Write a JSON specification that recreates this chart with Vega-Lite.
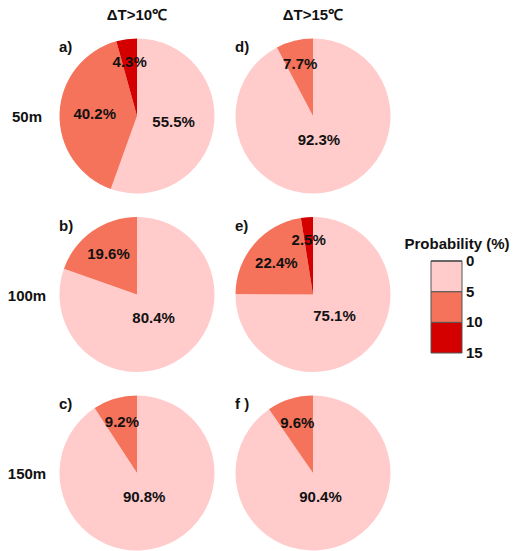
{
  "$schema": "https://vega.github.io/schema/vega-lite/v6.json",
  "width": 515,
  "height": 551,
  "autosize": {"type": "none"},
  "padding": 0,
  "background": "white",
  "config": {"view": {"stroke": null}, "font": "Liberation Sans"},
  "datasets": {
    "slices": [
      {"panel": "a", "col": 0, "row": 0, "lower": 0, "pct": 55.5},
      {"panel": "a", "col": 0, "row": 0, "lower": 5, "pct": 40.2},
      {"panel": "a", "col": 0, "row": 0, "lower": 10, "pct": 4.3},
      {"panel": "b", "col": 0, "row": 1, "lower": 0, "pct": 80.4},
      {"panel": "b", "col": 0, "row": 1, "lower": 5, "pct": 19.6},
      {"panel": "c", "col": 0, "row": 2, "lower": 0, "pct": 90.8},
      {"panel": "c", "col": 0, "row": 2, "lower": 5, "pct": 9.2},
      {"panel": "d", "col": 1, "row": 0, "lower": 0, "pct": 92.3},
      {"panel": "d", "col": 1, "row": 0, "lower": 5, "pct": 7.7},
      {"panel": "e", "col": 1, "row": 1, "lower": 0, "pct": 75.1},
      {"panel": "e", "col": 1, "row": 1, "lower": 5, "pct": 22.4},
      {"panel": "e", "col": 1, "row": 1, "lower": 10, "pct": 2.5},
      {"panel": "f", "col": 1, "row": 2, "lower": 0, "pct": 90.4},
      {"panel": "f", "col": 1, "row": 2, "lower": 5, "pct": 9.6}
    ],
    "panels": [
      {"col": 0, "row": 0, "label": "a)"},
      {"col": 0, "row": 1, "label": "b)"},
      {"col": 0, "row": 2, "label": "c)"},
      {"col": 1, "row": 0, "label": "d)"},
      {"col": 1, "row": 1, "label": "e)"},
      {"col": 1, "row": 2, "label": "f )"}
    ],
    "headers": [
      {"col": 0, "row": 0, "label": "ΔT>10℃"},
      {"col": 1, "row": 0, "label": "ΔT>15℃"}
    ],
    "depths": [
      {"col": 0, "row": 0, "label": "50m"},
      {"col": 0, "row": 1, "label": "100m"},
      {"col": 0, "row": 2, "label": "150m"}
    ]
  },
  "layer": [
    {
      "data": {"name": "slices"},
      "transform": [
        {"stack": "pct", "groupby": ["panel"], "sort": [{"field": "lower", "order": "ascending"}], "as": ["start", "end"]},
        {"calculate": "(datum.start + datum.end) / 2", "as": "mid"},
        {"calculate": "10 - datum.lower", "as": "flip"},
        {"calculate": "format(datum.pct, '.1f') + '%'", "as": "label"}
      ],
      "layer": [
        {
          "mark": {"type": "arc", "outerRadius": 77.5},
          "encoding": {
            "x": {"field": "col", "type": "quantitative", "scale": {"domain": [0, 1], "range": [137, 313], "nice": false, "zero": false}, "axis": null},
            "y": {"field": "row", "type": "quantitative", "scale": {"domain": [0, 2], "range": [116, 473], "nice": false, "zero": false}, "axis": null},
            "theta": {"field": "start", "type": "quantitative", "scale": {"type": "linear", "domain": [0, 100], "range": [0, 6.283185307179586]}},
            "theta2": {"field": "end"},
            "color": {
              "field": "flip",
              "type": "quantitative",
              "bin": {"extent": [0, 15], "step": 5},
              "scale": {"range": ["#D40000", "#F5735A", "#FFCBCB"]},
              "legend": {
                "type": "gradient",
                "title": "Probability (%)",
                "orient": "none",
                "legendX": 404,
                "legendY": 237,
                "direction": "vertical",
                "gradientLength": 92,
                "gradientThickness": 31,
                "gradientStrokeColor": "#555555",
                "gradientStrokeWidth": 1,
                "titleFont": "Liberation Sans",
                "titleFontSize": 15,
                "titleFontWeight": "bold",
                "titleColor": "#111111",
                "titlePadding": 9,
                "titleAnchor": "middle",
                "titleLimit": 200,
                "labelFont": "Liberation Sans",
                "labelFontSize": 15,
                "labelFontWeight": "bold",
                "labelColor": "#111111",
                "labelOffset": 4,
                "labelOverlap": false,
                "labelBaseline": "middle",
                "values": [0, 5, 10, 15],
                "labelExpr": "'' + (15 - datum.value)",
                "encode": {"labels": {"update": {"baseline": {"value": "middle"}}}}
              }
            }
          }
        },
        {
          "mark": {"type": "text", "font": "Liberation Sans", "fontSize": 15, "fontWeight": "bold", "color": "#111111", "align": "center", "baseline": "middle"},
          "encoding": {
            "x": {"field": "col", "type": "quantitative", "scale": {"domain": [0, 1], "range": [137, 313], "nice": false, "zero": false}, "axis": null},
            "y": {"field": "row", "type": "quantitative", "scale": {"domain": [0, 2], "range": [116, 473], "nice": false, "zero": false}, "axis": null},
            "theta": {"field": "mid", "type": "quantitative", "stack": null, "scale": {"type": "linear", "domain": [0, 100], "range": [0, 6.283185307179586]}},
            "radius": {"field": "pct", "type": "quantitative", "scale": {"type": "linear", "domain": [0, 100], "range": [56, 22], "zero": false}},
            "text": {"field": "label"}
          }
        }
      ]
    },
    {
      "data": {"name": "panels"},
      "mark": {"type": "text", "font": "Liberation Sans", "fontSize": 15, "fontWeight": "bold", "color": "#111111", "align": "left", "baseline": "middle", "dx": -78, "dy": -69},
      "encoding": {
        "x": {"field": "col", "type": "quantitative", "scale": {"domain": [0, 1], "range": [137, 313], "nice": false, "zero": false}, "axis": null},
        "y": {"field": "row", "type": "quantitative", "scale": {"domain": [0, 2], "range": [116, 473], "nice": false, "zero": false}, "axis": null},
        "text": {"field": "label"}
      }
    },
    {
      "data": {"name": "headers"},
      "mark": {"type": "text", "font": "Liberation Sans", "fontSize": 15, "fontWeight": "bold", "color": "#111111", "align": "center", "baseline": "middle", "dy": -101},
      "encoding": {
        "x": {"field": "col", "type": "quantitative", "scale": {"domain": [0, 1], "range": [137, 313], "nice": false, "zero": false}, "axis": null},
        "y": {"field": "row", "type": "quantitative", "scale": {"domain": [0, 2], "range": [116, 473], "nice": false, "zero": false}, "axis": null},
        "text": {"field": "label"}
      }
    },
    {
      "data": {"name": "depths"},
      "mark": {"type": "text", "font": "Liberation Sans", "fontSize": 15, "fontWeight": "bold", "color": "#111111", "align": "center", "baseline": "middle", "dx": -110, "dy": 1},
      "encoding": {
        "x": {"field": "col", "type": "quantitative", "scale": {"domain": [0, 1], "range": [137, 313], "nice": false, "zero": false}, "axis": null},
        "y": {"field": "row", "type": "quantitative", "scale": {"domain": [0, 2], "range": [116, 473], "nice": false, "zero": false}, "axis": null},
        "text": {"field": "label"}
      }
    }
  ]
}
